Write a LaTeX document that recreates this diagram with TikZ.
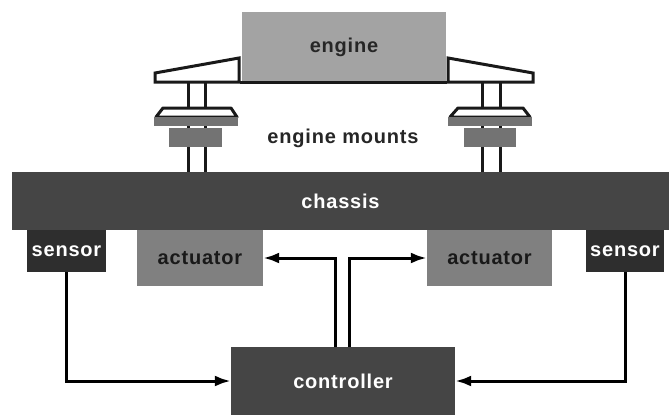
\documentclass[tikz,border=0pt]{standalone}
\usepackage{fontspec}
\setmainfont[LetterSpace=4]{Liberation Sans}
\usetikzlibrary{arrows.meta}
\tikzset{
	block/.style={inner sep=0, font=\fontsize{20}{22}\selectfont\bfseries},
	darkblock/.style={block, fill=black!73, text=white},
	greyblock/.style={block, fill=black!50, text=black!90},
	signal/.style={line width=3pt, -{Latex[length=16pt,width=11pt]}},
	mountline/.style={line width=3pt, color=black!90},
}
\begin{document}
\begin{tikzpicture}[x=1pt, y=-1pt]
		\useasboundingbox (0, 0) rectangle (669, 415);
		
		%%%%% ENGINE %%%%%
		\node[block, fill=black!36, text=black!85, minimum width=204pt, minimum height=70pt] (engine) at (344, 47) {engine};
		\draw[mountline] (240, 82) -- (447, 82);
		
		%%%%% MOUNTS %%%%%
		\draw[mountline] (188, 83) -- (188, 172);
		\draw[mountline] (205.5, 83) -- (205.5, 172);
		\draw[mountline] (482, 83) -- (482, 172);
		\draw[mountline] (500, 83) -- (500, 172);
		
		\draw[mountline, fill=white] (155, 73) -- (239, 58) -- (239, 82) -- (155, 82) -- cycle;
		\draw[mountline, fill=white] (448, 58) -- (533, 73) -- (533, 82) -- (448, 82) -- cycle;
		
		\draw[mountline, line join=round, fill=white] (156, 117) -- (163, 108) -- (231, 108) -- (237, 117) -- cycle;
		\draw[mountline, line join=round, fill=white] (450, 117) -- (458, 108) -- (523, 108) -- (530, 117) -- cycle;
		\fill[black!55] (154, 117) rectangle (238, 125.5);
		\fill[black!55] (448, 117) rectangle (532, 125.5);
		\fill[black!55] (169, 128) rectangle (222, 147);
		\fill[black!55] (464, 128) rectangle (516, 147);
		
		\node[block, text=black!85] (mounts) at (343, 138) {engine mounts};
		
		%%%%% CONTROL LOOP %%%%%
		\node[darkblock, minimum width=657pt, minimum height=58pt] (chassis) at (340.5, 201) {chassis};
		\node[darkblock, fill=black!82, minimum width=79pt, minimum height=42pt] (sensorL) at (66.5, 251) {sensor};
		\node[darkblock, fill=black!82, minimum width=78pt, minimum height=42pt] (sensorR) at (625, 251) {sensor};
		\node[greyblock, minimum width=126pt, minimum height=56pt] (actuatorL) at (200, 258) {actuator};
		\node[greyblock, minimum width=125pt, minimum height=56pt] (actuatorR) at (489.5, 258) {actuator};
		\node[darkblock, minimum width=224pt, minimum height=68pt] (controller) at (343, 381) {controller};
		
		\coordinate (outL) at (335, 347);
		\coordinate (outR) at (349, 347);
		
		\draw[signal] (sensorL.south) |- (controller.west);
		\draw[signal] (sensorR.south) |- (controller.east);
		\draw[signal] (outL) |- (actuatorL.east);
		\draw[signal] (outR) |- (actuatorR.west);
		
		%%%%% END %%%%%
	\end{tikzpicture}
\end{document}
